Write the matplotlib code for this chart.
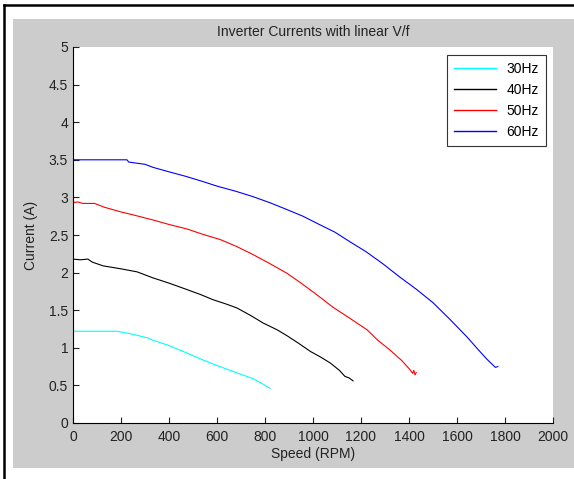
import matplotlib
matplotlib.use('Agg')
import matplotlib.pyplot as plt
from matplotlib.patches import Rectangle
from matplotlib.lines import Line2D

plt.rcParams['font.family'] = ['Liberation Sans', 'DejaVu Sans']

# speed (RPM) / current (A)
rpm_30 = [0, 100, 183, 250, 300, 315, 325, 400, 475, 540, 612, 680, 750, 790, 821]
cur_30 = [1.22, 1.22, 1.22, 1.18, 1.14, 1.13, 1.11, 1.03, 0.93, 0.84, 0.75, 0.67, 0.59, 0.52, 0.46]

rpm_40 = [0, 30, 62, 80, 125, 200, 267, 333, 400, 470, 530, 583, 640, 683, 740, 792,
          850, 892, 940, 990, 1030, 1071, 1110, 1133, 1150, 1167]
cur_40 = [2.18, 2.17, 2.18, 2.14, 2.09, 2.05, 2.01, 1.93, 1.86, 1.78, 1.71, 1.64, 1.58, 1.53,
          1.43, 1.33, 1.24, 1.16, 1.06, 0.95, 0.88, 0.80, 0.70, 0.62, 0.60, 0.56]

rpm_50 = [0, 20, 40, 90, 130, 196, 260, 333, 400, 475, 540, 613, 680, 750, 820, 892,
          946, 1010, 1083, 1150, 1225, 1270, 1321, 1370, 1404, 1415, 1420, 1425, 1430]
cur_50 = [2.93, 2.94, 2.92, 2.92, 2.87, 2.81, 2.76, 2.70, 2.64, 2.58, 2.51, 2.44, 2.35, 2.24,
          2.12, 1.99, 1.87, 1.72, 1.54, 1.40, 1.24, 1.10, 0.97, 0.83, 0.71, 0.66, 0.70, 0.64, 0.67]

rpm_60 = [0, 100, 225, 232, 300, 333, 400, 470, 542, 600, 680, 750, 820, 890, 958, 1020,
          1090, 1154, 1220, 1290, 1362, 1430, 1500, 1570, 1640, 1690, 1724, 1750, 1760, 1770]
cur_60 = [3.5, 3.5, 3.5, 3.47, 3.44, 3.40, 3.34, 3.28, 3.21, 3.15, 3.08, 3.01, 2.93, 2.84,
          2.75, 2.65, 2.54, 2.41, 2.28, 2.12, 1.94, 1.78, 1.60, 1.38, 1.15, 0.97, 0.85, 0.77,
          0.74, 0.75]

labels = ['30Hz', '40Hz', '50Hz', '60Hz']
colors = ['cyan', 'black', 'red', 'blue']

W, H = 574, 479
fig = plt.figure(figsize=(W / 100, H / 100), dpi=100)
fig.patch.set_facecolor('white')

# gray matlab window + black frame of the page
fig.patches.append(Rectangle((13 / W, 1 - 468 / H), 1 - 13 / W, (468 - 19) / H,
                             transform=fig.transFigure, facecolor='#cccccc', edgecolor='none', zorder=-5))
fig.lines.append(Line2D([4 / W, 1], [1 - 5 / H, 1 - 5 / H], transform=fig.transFigure,
                        color='black', lw=1.8, zorder=-4))
fig.lines.append(Line2D([4 / W, 4 / W], [0, 1 - 5 / H], transform=fig.transFigure,
                        color='black', lw=1.8, zorder=-4))

ax = fig.add_axes([73 / W, 1 - 423 / H, 480 / W, 376 / H])
ax.set_facecolor('white')
for x, y, lab, c in zip([rpm_30, rpm_40, rpm_50, rpm_60], [cur_30, cur_40, cur_50, cur_60], labels, colors):
    ax.plot(x, y, color=c, lw=0.8, label=lab)

ax.set_xlim(0, 2000)
ax.set_ylim(0, 5)
ax.set_xticks(range(0, 2001, 200))
ax.set_yticks([0, 0.5, 1, 1.5, 2, 2.5, 3, 3.5, 4, 4.5, 5])
ax.set_yticklabels(['0', '0.5', '1', '1.5', '2', '2.5', '3', '3.5', '4', '4.5', '5'])
ax.spines['top'].set_visible(False)
ax.spines['right'].set_visible(False)
ax.tick_params(direction='in', length=4, labelsize=10, colors='#222222')
ax.tick_params(axis='x', pad=5)

ax.set_title('Inverter Currents with linear V/f', fontsize=10, pad=8, color='#222222')
ax.set_xlabel('Speed (RPM)', fontsize=10, labelpad=2, color='#222222')
ax.set_ylabel('Current (A)', fontsize=10, labelpad=8, color='#222222')

leg = ax.legend(loc='upper right', bbox_to_anchor=(546 / W, 1 - 55 / H),
                bbox_transform=fig.transFigure, borderaxespad=0, fancybox=False,
                edgecolor='black', fontsize=10, handlelength=3.0, labelspacing=0.5,
                borderpad=0.5)
leg.get_frame().set_linewidth(0.8)
for h in leg.get_lines():
    h.set_linewidth(1.0)

fig.savefig('out.png', dpi=100)
